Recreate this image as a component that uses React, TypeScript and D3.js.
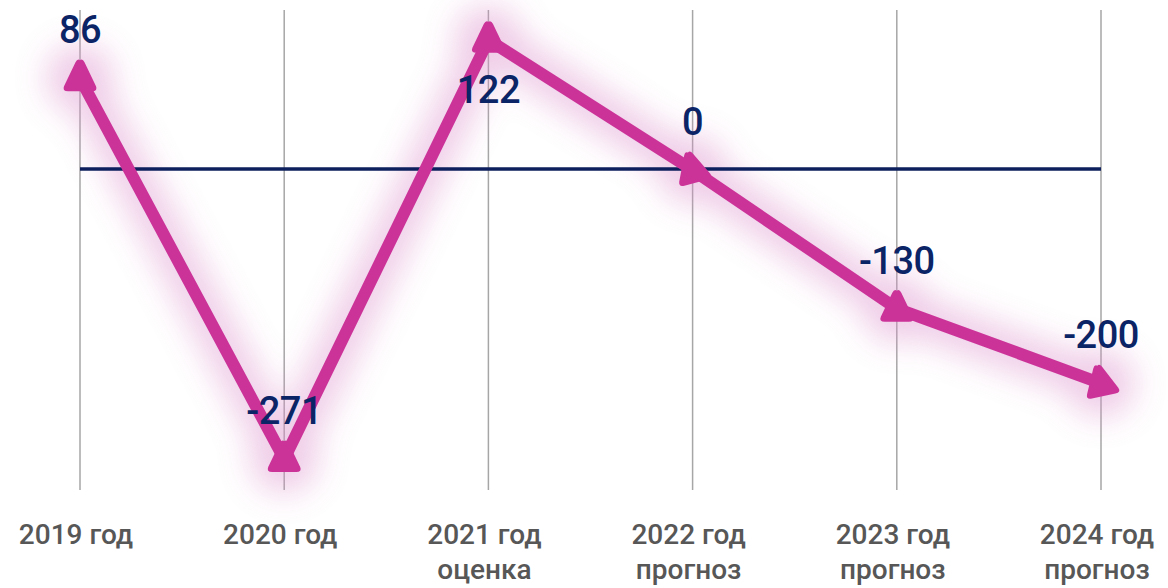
import React from "react";
import * as d3 from "d3";

const categories = ["2019 год", "2020 год", "2021 год", "2022 год", "2023 год", "2024 год"];
const subLabels = ["", "", "оценка", "прогноз", "прогноз", "прогноз"];
const values = [86, -271, 122, 0, -130, -200];
const valueLabels = ["86", "-271", "122", "0", "-130", "-200"];
// label placement: above (-1) or below (+1) the point
const labelSide = [-1, -1, 1, -1, -1, -1];
const markerRotation = [0, 0, 0, -15, 0, -12];

const W = 1168;
const H = 588;

export default function App() {
  const x = d3.scalePoint<string>().domain(categories).range([80, 1101]);
  const y = d3.scaleLinear().domain([-300, 150]).range([490, 10]);
  const pts: [number, number][] = values.map((v, i) => [x(categories[i])!, y(v)]);
  const line = d3.line().curve(d3.curveLinear)(pts) || "";
  const tri = "M0,-18 Q2.5,-20 4.5,-16 L16,8 Q18,13 12,13 L-12,13 Q-18,13 -16,8 L-4.5,-16 Q-2.5,-20 0,-18 Z";
  const font = "'Roboto', 'DejaVu Sans', sans-serif";
  return (
    <svg width={W} height={H} style={{ position: "absolute", left: 0, top: 0 }}>
      <defs>
        <filter id="glow" filterUnits="userSpaceOnUse" x={-100} y={-100} width={W + 200} height={H + 200}>
          <feGaussianBlur stdDeviation="16" />
        </filter>
      </defs>
      <rect width={W} height={H} fill="#fff" />
      {categories.map((c) => (
        <line key={c} x1={x(c)} x2={x(c)} y1={10} y2={490} stroke="#a6a6a6" strokeWidth={1.5} />
      ))}
      <g filter="url(#glow)" opacity={0.45}>
        <path d={line} fill="none" stroke="#dc8fca" strokeWidth={40} strokeLinejoin="round" />
        {pts.map((p, i) => (
          <circle key={i} cx={p[0]} cy={p[1]} r={34} fill="#dc8fca" />
        ))}
      </g>
      <line x1={80} x2={1101} y1={y(0) - 1} y2={y(0) - 1} stroke="#0d1f5c" strokeWidth={3.5} />
      <path d={line} fill="none" stroke="#cc3399" strokeWidth={12} strokeLinejoin="miter" />
      {pts.map((p, i) => (
        <path key={i} d={tri} transform={`translate(${p[0]},${p[1]}) rotate(${markerRotation[i]})`} fill="#cc3399" />
      ))}
      {pts.map((p, i) => (
        <text
          key={i}
          x={p[0]}
          y={labelSide[i] < 0 ? p[1] - 35 : p[1] + 63}
          textAnchor="middle"
          fontFamily={font}
          fontWeight={500}
          fontSize={38}
          fill="#0b2466"
          style={{ letterSpacing: "-0.5px" }}
        >
          {valueLabels[i]}
        </text>
      ))}
      {categories.map((c, i) => (
        <g key={c}>
          <text x={x(c)! - 4} y={544} textAnchor="middle" fontFamily={font} fontWeight={500} fontSize={28} fill="#575757">
            {c}
          </text>
          {subLabels[i] && (
            <text x={x(c)! - 4} y={579} textAnchor="middle" fontFamily={font} fontWeight={500} fontSize={28} fill="#575757">
              {subLabels[i]}
            </text>
          )}
        </g>
      ))}
    </svg>
  );
}
